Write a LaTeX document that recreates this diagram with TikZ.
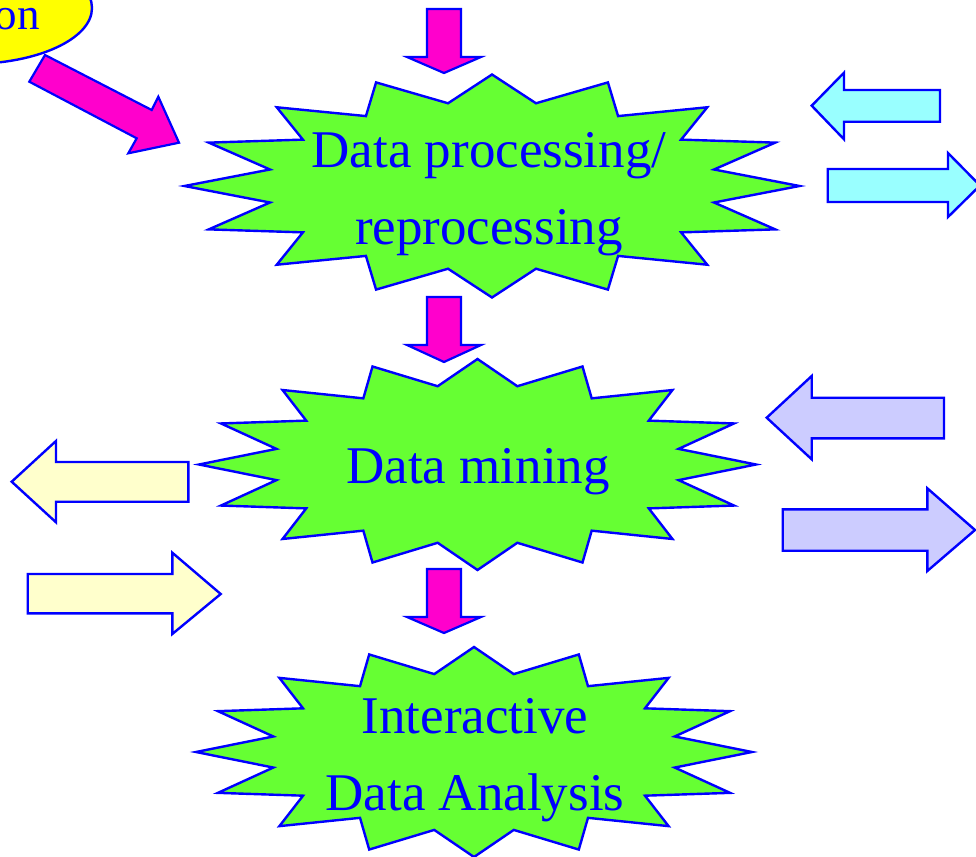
\documentclass[tikz,border=0pt]{standalone}
\usepackage{fontspec}
\setmainfont{Liberation Serif}
\definecolor{burstgreen}{RGB}{102,255,51}
\definecolor{lineblue}{RGB}{0,0,255}
\definecolor{pinkfill}{RGB}{255,0,204}
\definecolor{cyanfill}{RGB}{153,255,255}
\definecolor{creamfill}{RGB}{255,255,204}
\definecolor{lavfill}{RGB}{204,204,255}
\definecolor{ellyellow}{RGB}{255,255,0}
\newcommand{\drawburst}[4]{%
  \begin{scope}[shift={(#1,#2)},xscale=#3,yscale=#4]
    \draw[burst] (0,-1) -- (0.143,-0.742) -- (0.377,-0.929) -- (0.410,-0.627)
      -- (0.700,-0.706) -- (0.615,-0.416) -- (0.921,-0.389) -- (0.722,-0.148)
      -- (1,0) -- (0.722,0.148) -- (0.921,0.389) -- (0.615,0.416)
      -- (0.700,0.706) -- (0.410,0.627) -- (0.377,0.929) -- (0.143,0.742)
      -- (0,1) -- (-0.143,0.742) -- (-0.377,0.929) -- (-0.410,0.627)
      -- (-0.700,0.706) -- (-0.615,0.416) -- (-0.921,0.389) -- (-0.722,0.148)
      -- (-1,0) -- (-0.722,-0.148) -- (-0.921,-0.389) -- (-0.615,-0.416)
      -- (-0.700,-0.706) -- (-0.410,-0.627) -- (-0.377,-0.929) -- (-0.143,-0.742)
      -- cycle;
  \end{scope}}
\begin{document}
\begin{tikzpicture}[x=1pt,y=-1pt,
  burst/.style={draw=lineblue,fill=burstgreen,line width=2.4pt,line join=miter},
  pinkarrow/.style={draw=lineblue,fill=pinkfill,line width=2.2pt,line join=miter},
  cyanarrow/.style={draw=lineblue,fill=cyanfill,line width=2.4pt,line join=miter},
  creamarrow/.style={draw=lineblue,fill=creamfill,line width=2.4pt,line join=miter},
  lavarrow/.style={draw=lineblue,fill=lavfill,line width=2.4pt,line join=miter},
  burstlabel/.style={text=lineblue,font=\fontsize{53}{77}\selectfont,align=center,inner sep=0pt},
  elllabel/.style={text=lineblue,font=\fontsize{45}{50}\selectfont,inner sep=0pt}]
\useasboundingbox (0,0) rectangle (976,856);
\clip (0,0) rectangle (976,856);
\fill[white] (0,0) rectangle (976,856);
% yellow ellipse (cut off)
\draw[draw=lineblue,fill=ellyellow,line width=2.4pt] (-30,8) ellipse [x radius=122, y radius=56];
\node[elllabel,anchor=base east] (ell) at (40,29.5) {on};
% diagonal arrow
\draw[pinkarrow] (45,55) -- (151.7,110) -- (158.3,96.7) -- (179,142.7) -- (128.3,153.3) -- (136.7,138.3) -- (29.3,81.7) -- cycle;
% down arrows
\draw[pinkarrow] (427,9) -- (461,9) -- (461,57) -- (481,57) -- (444,73) -- (407,57) -- (427,57) -- cycle;
\draw[pinkarrow] (427,297) -- (461,297) -- (461,345) -- (481,345) -- (444,362) -- (407,345) -- (427,345) -- cycle;
\draw[pinkarrow] (427,569) -- (461,569) -- (461,617) -- (481,617) -- (444,633) -- (407,617) -- (427,617) -- cycle;
% starbursts
\drawburst{492}{186}{307.5}{111.5}
\drawburst{477.5}{464.5}{278.5}{105.5}
\drawburst{474}{752}{278}{105}
\node[burstlabel] (dp) at (489,194.5) {Data processing/\\reprocessing};
\node[burstlabel,anchor=base] (dm) at (478,483) {Data mining};
\node[burstlabel] (ida) at (475,760) {Interactive\\Data Analysis};
% cyan arrows
\draw[cyanarrow] (811.7,105.7) -- (844,72.7) -- (844,90) -- (940,90) -- (940,121.7) -- (844,121.7) -- (844,139.3) -- cycle;
\draw[cyanarrow] (827.7,169) -- (948,169) -- (948,153) -- (980,185.5) -- (948,217) -- (948,202) -- (827.7,202) -- cycle;
% cream arrows
\draw[creamarrow] (11.7,481.7) -- (56,441) -- (56,462) -- (188.3,462) -- (188.3,501.7) -- (56,501.7) -- (56,522.3) -- cycle;
\draw[creamarrow] (27.7,574) -- (172.3,574) -- (172.3,552.7) -- (220.7,594) -- (172.3,634) -- (172.3,613.3) -- (27.7,613.3) -- cycle;
% lavender arrows
\draw[lavarrow] (766.7,417.7) -- (811.7,376) -- (811.7,397.7) -- (944,397.7) -- (944,438.3) -- (811.7,438.3) -- (811.7,459.3) -- cycle;
\draw[lavarrow] (782.7,509.3) -- (927.3,509.3) -- (927.3,488.3) -- (975,530) -- (927.3,571) -- (927.3,550.7) -- (782.7,550.7) -- cycle;
\end{tikzpicture}
\end{document}
